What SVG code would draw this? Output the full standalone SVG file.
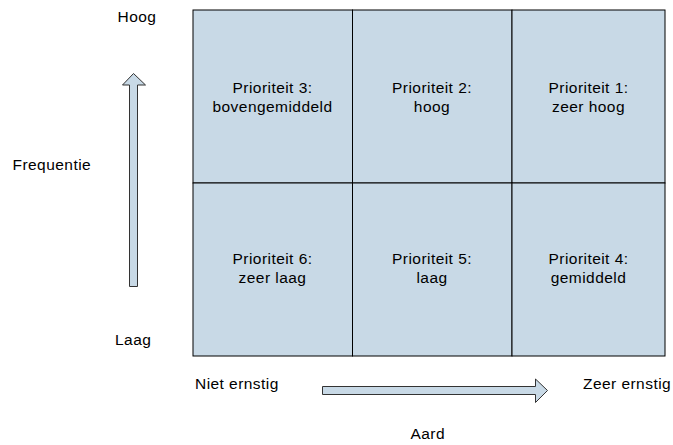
<svg xmlns="http://www.w3.org/2000/svg" width="673" height="445" viewBox="0 0 673 445">
<style>
text{font-family:"Liberation Sans",Arial,sans-serif;font-size:15.5px;letter-spacing:0.45px;fill:#000}
.c{text-anchor:middle}
.cell{fill:#c8d9e6;stroke:#000;stroke-width:1}
.arr{fill:#c8d9e6;stroke:#333;stroke-width:1}
</style>
<rect width="673" height="445" fill="#fff"/>
<g id="cell-p3"><rect class="cell" x="193" y="10" width="159.5" height="173"/><text class="c" x="272.5" y="93">Prioriteit 3:</text><text class="c" x="272.5" y="111.5">bovengemiddeld</text></g>
<g id="cell-p2"><rect class="cell" x="352.5" y="10" width="159.5" height="173"/><text class="c" x="432" y="93">Prioriteit 2:</text><text class="c" x="432" y="111.5">hoog</text></g>
<g id="cell-p1"><rect class="cell" x="512" y="10" width="153" height="173"/><text class="c" x="588.5" y="93">Prioriteit 1:</text><text class="c" x="588.5" y="111.5">zeer hoog</text></g>
<g id="cell-p6"><rect class="cell" x="193" y="183" width="159.5" height="173"/><text class="c" x="272.5" y="264">Prioriteit 6:</text><text class="c" x="272.5" y="283">zeer laag</text></g>
<g id="cell-p5"><rect class="cell" x="352.5" y="183" width="159.5" height="173"/><text class="c" x="432" y="264">Prioriteit 5:</text><text class="c" x="432" y="283">laag</text></g>
<g id="cell-p4"><rect class="cell" x="512" y="183" width="153" height="173"/><text class="c" x="588.5" y="264">Prioriteit 4:</text><text class="c" x="588.5" y="283">gemiddeld</text></g>
<g id="connectors">
<polygon class="arr" points="129.5,286.5 129.5,85 122.5,85 133.5,73.5 145.5,85 137.5,85 137.5,286.5"/>
<polygon class="arr" points="322.5,386.5 535.5,386.5 535.5,379 547.5,390.5 535.5,402.5 535.5,394.5 322.5,394.5"/>
</g>
<g id="labels">
<text x="117.5" y="22">Hoog</text>
<text x="115" y="345">Laag</text>
<text x="12.5" y="170">Frequentie</text>
<text x="195" y="389">Niet ernstig</text>
<text x="583" y="389">Zeer ernstig</text>
<text x="410.5" y="439">Aard</text>
</g>
</svg>
